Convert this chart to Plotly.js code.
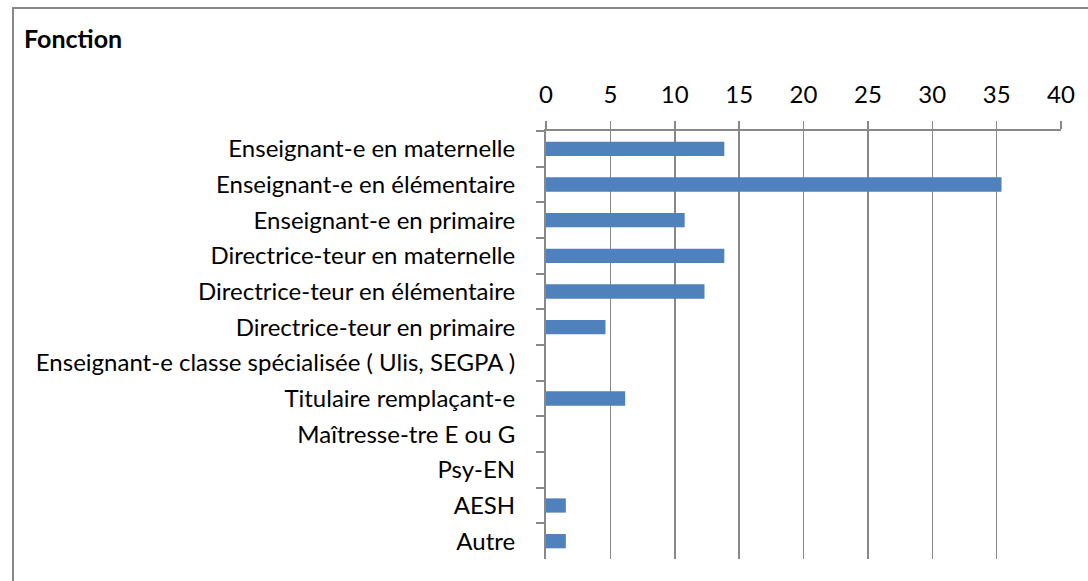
<!DOCTYPE html>
<html>
<head>
<meta charset="utf-8">
<script src="https://cdn.plot.ly/plotly-3.0.1.min.js"></script>
<style>
html,body{margin:0;padding:0;background:#fff;}
#chart{width:1088px;height:581px;}
</style>
</head>
<body>
<div id="chart"></div>
<script>
const categories = [
  "Enseignant-e en maternelle",
  "Enseignant-e en élémentaire",
  "Enseignant-e en primaire",
  "Directrice-teur en maternelle",
  "Directrice-teur en élémentaire",
  "Directrice-teur en primaire",
  "Enseignant-e classe spécialisée ( Ulis, SEGPA )",
  "Titulaire remplaçant-e",
  "Maîtresse-tre E ou G",
  "Psy-EN",
  "AESH",
  "Autre"
];
const values = [13.85, 35.38, 10.77, 13.85, 12.31, 4.62, 0, 6.15, 0, 0, 1.54, 1.54];
const xTicks = [0, 5, 10, 15, 20, 25, 30, 35, 40];
const chartTitle = "Fonction";

const font = "Lato, 'Open Sans', sans-serif";
const gray = "#888888";

const trace = {
  type: "bar",
  orientation: "h",
  x: values,
  y: categories,
  marker: {color: "#4F81BD", line: {color: "#4F81BD", width: 0}},
  hoverinfo: "x+y"
};

const layout = {
  width: 1088,
  height: 581,
  margin: {l: 546, r: 27, t: 131, b: 22, pad: 0},
  paper_bgcolor: "#ffffff",
  plot_bgcolor: "#ffffff",
  showlegend: false,
  bargap: 0.6,
  font: {family: font, size: 24, color: "#000000"},
  xaxis: {
    side: "top",
    range: [0, 40],
    tickvals: xTicks,
    ticktext: xTicks.map(String),
    showgrid: true,
    gridcolor: gray,
    gridwidth: 1.5,
    showline: true,
    linecolor: gray,
    linewidth: 2,
    ticks: "outside",
    ticklen: 8,
    tickcolor: gray,
    tickwidth: 1.5,
    ticklabelstandoff: 8,
    zeroline: false,
    tickfont: {family: font, size: 24, color: "#000"},
    fixedrange: true
  },
  yaxis: {
    autorange: "reversed",
    type: "category",
    showgrid: false,
    showline: true,
    linecolor: gray,
    linewidth: 2,
    ticks: "outside",
    tickson: "boundaries",
    ticklen: 8,
    tickcolor: gray,
    tickwidth: 2,
    ticklabelstandoff: 24,
    tickfont: {family: font, size: 24, color: "#000"},
    fixedrange: true
  },
  annotations: [{
    text: "<b>" + chartTitle + "</b>",
    xref: "paper", yref: "paper",
    x: (22 - 546) / 515, y: (559.3 - 38) / 428.6,
    xanchor: "left", yanchor: "middle",
    showarrow: false,
    font: {family: font, size: 25, color: "#000"}
  }],
  shapes: [{
    type: "rect",
    xref: "paper", yref: "paper",
    x0: (13 - 546) / 515, x1: (1100 - 546) / 515,
    y0: (559.3 - 600) / 428.6, y1: (559.3 - 7.5) / 428.6,
    line: {color: gray, width: 2},
    fillcolor: "rgba(0,0,0,0)",
    layer: "below"
  }]
};

Plotly.newPlot("chart", [trace], layout, {displayModeBar: false, staticPlot: true});
</script>
</body>
</html>
